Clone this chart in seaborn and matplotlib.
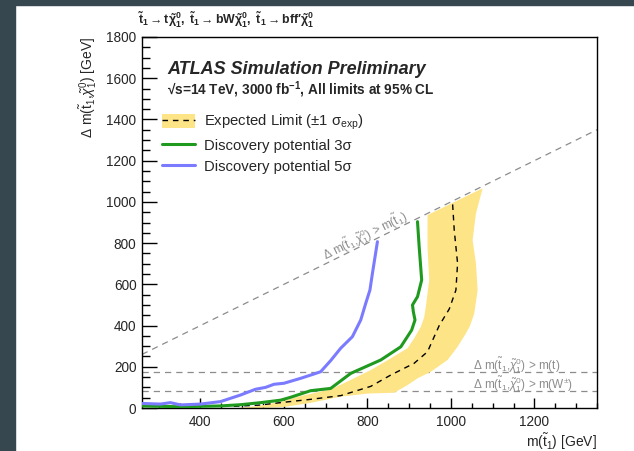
import matplotlib
matplotlib.use("Agg")
import matplotlib.pyplot as plt
import seaborn as sns
import pandas as pd
from matplotlib.patches import Patch, Rectangle
from matplotlib.lines import Line2D
from matplotlib.ticker import MultipleLocator

# ---- contours in the (m(stop), delta m) plane, GeV ----
disc5_mstop = [260, 290, 304, 328, 352, 400, 448, 472, 496, 532, 556, 576, 600,
               640, 672, 688, 712, 736, 764, 784, 796, 806, 812, 818, 824]
disc5_dm = [22, 20, 19, 26, 15, 19, 31, 47, 63, 91, 100, 115, 120,
            144, 165, 176, 230, 290, 346, 427, 508, 572, 653, 730, 807]

disc3_mstop = [260, 352, 448, 496, 544, 592, 616, 664, 712, 760, 832, 880,
               906, 914, 910, 908, 920, 930, 924, 920]
disc3_dm = [10, 6, 10, 16, 26, 38, 52, 84, 95, 168, 233, 297,
            378, 427, 467, 500, 540, 621, 782, 904]

exp_mstop = [480, 540, 592, 664, 736, 808, 856, 912, 944, 960, 972, 996,
             1012, 1016, 1008, 1004]
exp_dm = [8, 14, 26, 42, 60, 105, 160, 217, 273, 346, 400, 480,
          572, 702, 863, 993]

# +-1 sigma band: inner edge (bottom to top), then outer edge (top to bottom)
band_inner_mstop = [490, 540, 592, 640, 712, 760, 808, 856, 896, 912, 928,
                    936, 940, 948, 944, 944]
band_inner_dm = [0, 10, 30, 58, 90, 136, 184, 241, 290, 338, 394,
                 440, 491, 621, 782, 936]
band_outer_mstop = [1076, 1060, 1052, 1060, 1064, 1056, 1046, 1036, 1016, 992,
                    952, 920, 896, 864, 800, 736, 664, 600, 540]
band_outer_dm = [1066, 944, 815, 702, 572, 459, 400, 362, 297, 233,
                 176, 144, 111, 74, 70, 55, 25, 5, 0]

M_TOP = 173.0
M_W = 80.4

X_TICKS = [400, 600, 800, 1000, 1200]
Y_TICKS = [0, 200, 400, 600, 800, 1000, 1200, 1400, 1600, 1800]

sns.set_style("ticks")
plt.rcParams["font.family"] = ["Liberation Sans", "DejaVu Sans"]
plt.rcParams["mathtext.fontset"] = "custom"
plt.rcParams["mathtext.rm"] = "Liberation Sans"
plt.rcParams["mathtext.it"] = "Liberation Sans:italic"
plt.rcParams["mathtext.bf"] = "Liberation Sans:bold"
plt.rcParams["mathtext.sf"] = "Liberation Sans"

BLUE = "#7b7bff"
GREEN = "#1f9a1f"
YELLOW = "#fde487"
GRAY = "#8c8c8c"

fig = plt.figure(figsize=(6.34, 4.51), dpi=100)
fig.patch.set_facecolor("white")
# dark page frame on top and left
fig.patches.append(Rectangle((0, 0), 15 / 634, 1, transform=fig.transFigure,
                             color="#37474f", zorder=-10))
fig.patches.append(Rectangle((0, 1 - 5 / 451), 1, 5 / 451, transform=fig.transFigure,
                             color="#37474f", zorder=-10))

ax = fig.add_axes([142 / 634, 1 - 408 / 451, 455 / 634, 371 / 451])
ax.set_xlim(260, 1350)
ax.set_ylim(0, 1800)

# expected limit band
ax.fill(band_inner_mstop + band_outer_mstop, band_inner_dm + band_outer_dm,
        color=YELLOW, lw=0, zorder=1)

# kinematic boundaries
ax.axline((0, 0), slope=1, color=GRAY, lw=0.9, dashes=(5, 4), zorder=0.5)
ax.axhline(M_TOP, color=GRAY, lw=0.9, dashes=(5, 4), zorder=0.5)
ax.axhline(M_W, color=GRAY, lw=0.9, dashes=(5, 4), zorder=0.5)

df5 = pd.DataFrame({"m": disc5_mstop, "dm": disc5_dm})
df3 = pd.DataFrame({"m": disc3_mstop, "dm": disc3_dm})
dfe = pd.DataFrame({"m": exp_mstop, "dm": exp_dm})
sns.lineplot(data=dfe, x="m", y="dm", sort=False, estimator=None, ax=ax,
             color="black", lw=1.0, zorder=3)
ax.lines[-1].set_dashes((4, 3.5))
sns.lineplot(data=df3, x="m", y="dm", sort=False, estimator=None, ax=ax,
             color=GREEN, lw=2.2, zorder=3)
sns.lineplot(data=df5, x="m", y="dm", sort=False, estimator=None, ax=ax,
             color=BLUE, lw=2.2, zorder=3)

# axes styling
for s in ax.spines.values():
    s.set_linewidth(1.0)
    s.set_color("black")
ax.set_xticks(X_TICKS)
ax.set_yticks(Y_TICKS)
ax.xaxis.set_minor_locator(MultipleLocator(50))
ax.yaxis.set_minor_locator(MultipleLocator(50))
ax.tick_params(axis="both", which="both", direction="in", top=False, right=False,
               color="black", width=1.0, labelsize=9.8)
ax.tick_params(axis="x", which="major", length=7, pad=5)
ax.tick_params(axis="x", which="minor", length=3.5)
ax.tick_params(axis="y", which="major", length=11, pad=4)
ax.tick_params(axis="y", which="minor", length=5.5)

ax.set_xlabel(r"m($\tilde{\mathrm{t}}_1$) [GeV]", fontsize=10, ha="right",
              x=1.0, labelpad=2)
ax.set_ylabel(r"$\Delta$ m($\tilde{\mathrm{t}}_1$,$\tilde{\chi}_1^0$) [GeV]",
              fontsize=10, ha="right", y=1.0, labelpad=5)

# decay channels above the frame
ax.text(-0.008, 1.035,
        r"$\mathbf{\tilde{t}_1 \rightarrow t\tilde{\chi}^0_1,\ \tilde{t}_1 \rightarrow bW\tilde{\chi}^0_1,\ \tilde{t}_1 \rightarrow bff\prime\tilde{\chi}^0_1}$",
        transform=ax.transAxes, fontsize=8.9, ha="left", va="baseline")

ax.text(0.055, 0.90, "ATLAS Simulation Preliminary", transform=ax.transAxes,
        fontsize=13, fontweight="bold", fontstyle="italic", va="baseline")
ax.text(0.055, 0.845, r"√s=14 TeV, 3000 fb$^{\mathbf{-1}}$, All limits at 95% CL",
        transform=ax.transAxes, fontsize=9.8, fontweight="bold", va="baseline",
        family=["Liberation Sans", "DejaVu Sans"])

# boundary labels
ax.text(700, 716, r"$\Delta$ m($\tilde{\mathrm{t}}_1$,$\tilde{\chi}_1^0$) > m($\tilde{\mathrm{t}}_1$)",
        color=GRAY, fontsize=8.5, rotation=45, transform_rotates_text=True,
        rotation_mode="anchor", ha="left", va="baseline")
ax.text(1053, M_TOP + 12, r"$\Delta$ m($\tilde{\mathrm{t}}_1$,$\tilde{\chi}_1^0$) > m(t)",
        color=GRAY, fontsize=8.5, ha="left", va="baseline")
ax.text(1053, M_W + 12, r"$\Delta$ m($\tilde{\mathrm{t}}_1$,$\tilde{\chi}_1^0$) > m(W$^{\pm}$)",
        color=GRAY, fontsize=8.5, ha="left", va="baseline")

handles = [
    (Patch(facecolor=YELLOW, edgecolor="none"),
     Line2D([], [], color="black", lw=1.0, dashes=(4, 3.5))),
    Line2D([], [], color=GREEN, lw=2.2),
    Line2D([], [], color=BLUE, lw=2.2),
]
labels = [r"Expected Limit (±1 $\mathrm{\sigma_{exp}}$)",
          "Discovery potential 3σ",
          "Discovery potential 5σ"]
ax.legend(handles, labels, loc="upper left", bbox_to_anchor=(0.044, 0.795),
          frameon=False, fontsize=10.7, handlelength=2.2, handleheight=1.0,
          handletextpad=0.65, labelspacing=0.42, borderpad=0, borderaxespad=0)

fig.savefig("out.png", dpi=100)
